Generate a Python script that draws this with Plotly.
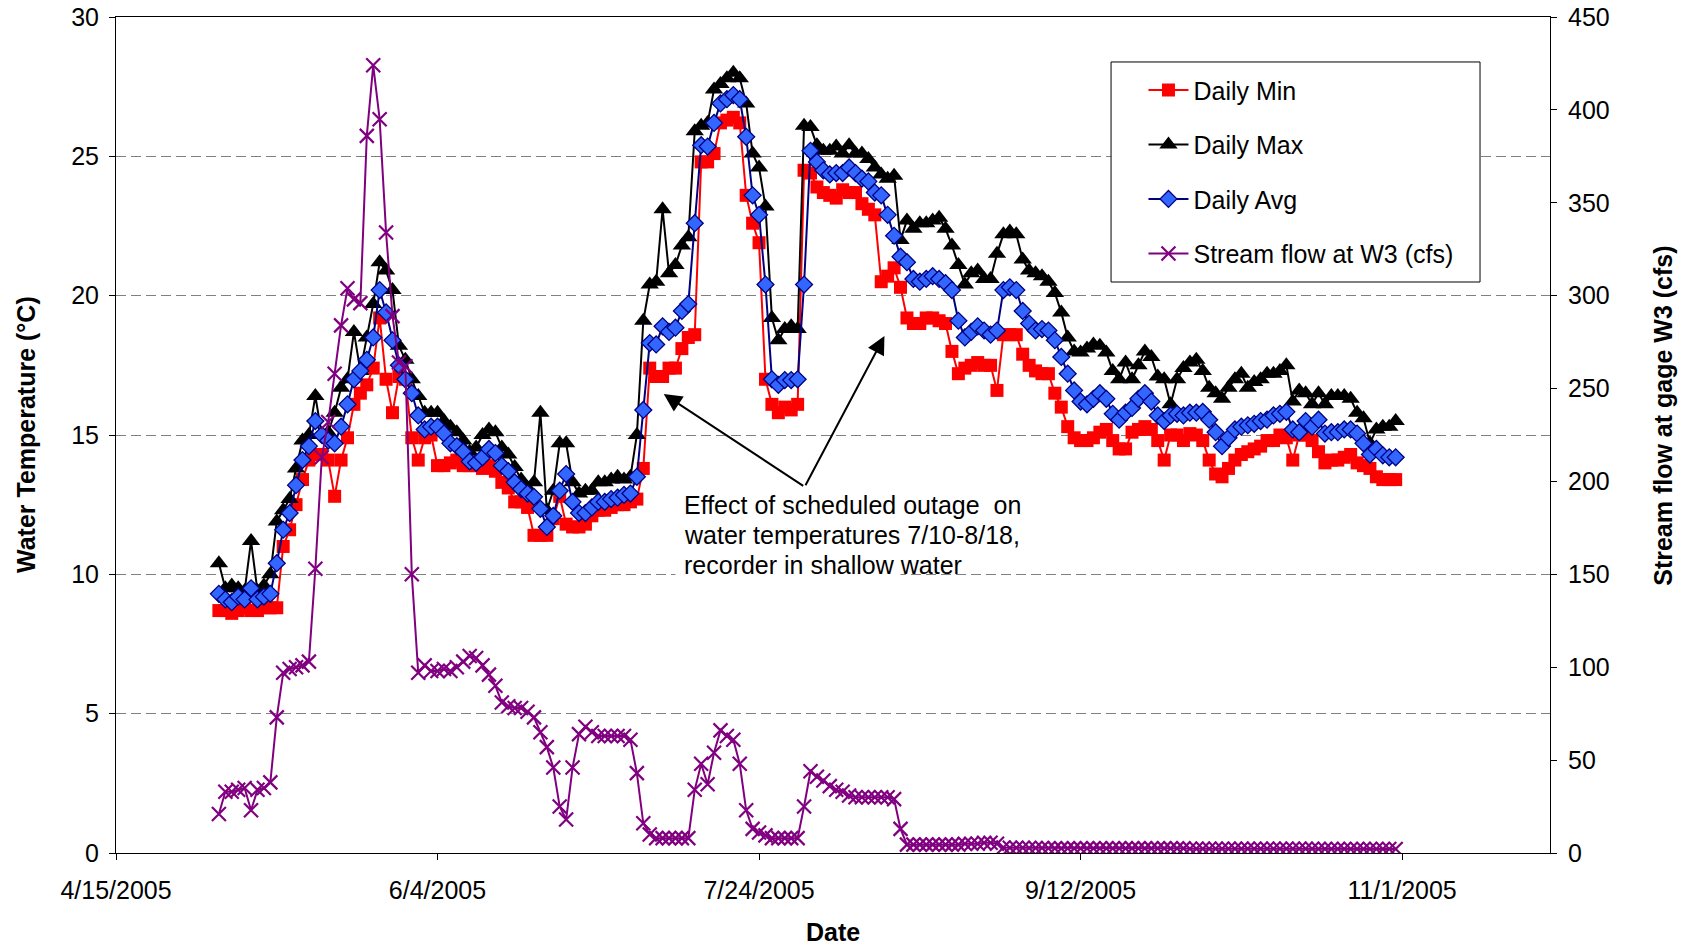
import pandas as pd
import plotly.graph_objects as go

start_date = "2005-05-01"

daily_min = [
    8.7, 8.7, 8.6, 8.7, 8.8, 8.7, 8.7, 8.8, 8.8, 8.8,
    11.0, 11.6, 12.5, 13.4, 14.1, 14.3, 14.3, 14.1, 12.8, 14.1,
    14.9, 16.1, 16.5, 16.8, 17.4, 19.2, 17.0, 15.8, 17.1, 17.0,
    14.9, 14.1, 14.9, 15.0, 13.9, 13.9, 14.0, 14.1, 13.9, 13.9,
    13.9, 13.8, 13.9, 13.7, 13.3, 13.1, 12.6, 12.6, 12.4, 11.4,
    11.4, 11.4, 12.0, 12.8, 11.8, 11.7, 11.7, 11.8, 12.1, 12.3,
    12.3, 12.4, 12.5, 12.5, 12.6, 12.7, 13.8, 17.4, 17.1, 17.1,
    17.4, 17.4, 18.1, 18.5, 18.6, 24.8, 24.8, 25.1, 26.2, 26.3,
    26.4, 26.2, 23.6, 22.6, 21.9, 17.0, 16.1, 15.8, 16.0, 15.9,
    16.1, 24.5, 24.4, 23.9, 23.7, 23.6, 23.5, 23.8, 23.7, 23.7,
    23.3, 23.1, 22.9, 20.5, 20.7, 21.0, 20.3, 19.2, 19.0, 19.0,
    19.2, 19.2, 19.1, 19.0, 18.0, 17.2, 17.4, 17.5, 17.6, 17.5,
    17.5, 16.6, 18.6, 18.6, 18.6, 17.9, 17.5, 17.3, 17.2, 17.2,
    16.5, 16.0, 15.3, 14.9, 14.8, 14.8, 14.9, 15.1, 15.2, 14.8,
    14.5, 14.5, 15.1, 15.2, 15.3, 15.2, 14.8, 14.1, 15.0, 15.0,
    14.8, 15.05, 15.0, 14.8, 14.1, 13.6, 13.5, 13.8, 14.1, 14.3,
    14.4, 14.5, 14.6, 14.8, 14.8, 15.0, 14.9, 14.1, 15.0, 15.0,
    14.8, 14.4, 14.0, 14.1, 14.1, 14.2, 14.3, 14.0, 13.9, 13.8,
    13.5, 13.4, 13.4, 13.4,
]

daily_max = [
    10.4, 9.5, 9.6, 9.5, 9.4, 11.2, 9.4, 9.6, 10.0, 11.9,
    12.3, 12.7, 13.8, 14.8, 15.0, 16.4, 15.0, 15.1, 15.8, 16.7,
    17.0, 18.7, 17.3, 18.5, 19.7, 21.2, 20.9, 20.2, 18.2, 17.7,
    17.0, 16.4, 15.8, 15.8, 15.8, 15.5, 15.3, 15.1, 14.8, 14.4,
    14.55, 15.0, 15.2, 15.1, 14.55, 14.3, 13.85, 13.4, 13.1, 13.3,
    15.8, 12.3, 13.0, 14.7, 14.7, 13.3, 12.9, 13.0, 13.0, 13.3,
    13.3, 13.4, 13.5, 13.4, 13.5, 15.0, 19.1, 20.4, 20.5, 23.1,
    20.8, 21.1, 21.8, 22.1, 25.9, 26.1, 26.2, 27.4, 27.6, 27.8,
    28.0, 27.8, 26.9, 25.1, 24.6, 23.2, 19.2, 18.4, 18.8, 18.9,
    18.8, 26.1, 26.05, 25.4, 25.2, 25.2, 25.35, 25.1, 25.4, 25.1,
    25.1, 24.9, 24.6, 24.35, 24.2, 24.3, 22.0, 22.7, 22.4, 22.6,
    22.6, 22.7, 22.8, 22.4, 21.8, 21.1, 20.4, 20.8, 20.9, 20.6,
    20.6, 21.5, 22.2, 22.3, 22.2, 21.3, 20.9, 20.8, 20.7, 20.5,
    20.1, 19.4, 18.5, 18.0, 17.96, 18.1, 18.25, 18.2, 17.96, 17.3,
    17.0, 17.6, 17.0, 17.5, 18.0, 17.8, 17.1, 17.0, 16.1, 17.0,
    17.4, 17.6, 17.7, 17.3, 16.7, 16.5, 16.3, 16.7, 17.0, 17.2,
    16.7, 16.9, 17.0, 17.2, 17.2, 17.3, 17.5, 16.2, 16.6, 16.5,
    16.1, 16.5, 16.1, 16.4, 16.4, 16.4, 16.3, 15.8, 15.6, 14.7,
    15.2, 15.3, 15.3, 15.5,
]

daily_avg = [
    9.3, 9.1, 9.0, 9.2, 9.1, 9.5, 9.1, 9.2, 9.3, 10.4,
    11.6, 12.2, 13.2, 14.1, 14.6, 15.5, 15.0, 14.8, 14.7, 15.3,
    16.1, 17.0, 17.3, 17.7, 18.5, 20.2, 19.4, 18.4, 17.5, 17.0,
    16.5, 15.7, 15.2, 15.3, 15.3, 15.05, 14.7, 14.6, 14.4, 14.05,
    14.0, 14.2, 14.5, 14.35, 13.9, 13.7, 13.3, 13.06, 12.9, 12.78,
    12.35, 11.7, 12.1, 13.0, 13.6, 12.6, 12.2, 12.2, 12.4, 12.6,
    12.6, 12.7, 12.75, 12.85, 12.9, 13.5, 15.9, 18.3, 18.25, 18.9,
    18.7, 18.85, 19.45, 19.7, 22.6, 25.4, 25.35, 26.2, 26.9, 27.05,
    27.2, 27.05, 25.7, 23.6, 22.9, 20.4, 17.0, 16.8, 16.97, 16.97,
    17.0, 20.4, 25.2, 24.8, 24.5, 24.35, 24.4, 24.4, 24.6, 24.4,
    24.2, 24.1, 23.7, 23.6, 22.9, 22.15, 21.4, 21.2, 20.6, 20.5,
    20.6, 20.7, 20.6, 20.45, 20.2, 19.1, 18.5, 18.7, 18.9, 18.75,
    18.6, 18.75, 20.2, 20.3, 20.2, 19.45, 19.0, 18.75, 18.8, 18.75,
    18.4, 17.8, 17.2, 16.6, 16.2, 16.1, 16.3, 16.5, 16.3, 15.76,
    15.55, 15.8, 15.97, 16.3, 16.5, 16.2, 15.7, 15.5, 15.7, 15.76,
    15.7, 15.8, 15.8, 15.83, 15.55, 15.1, 14.6, 14.9, 15.2, 15.3,
    15.35, 15.4, 15.5, 15.55, 15.7, 15.76, 15.83, 15.2, 15.1, 15.5,
    15.3, 15.55, 15.05, 15.1, 15.1, 15.2, 15.2, 15.05, 14.7, 14.3,
    14.5, 14.27, 14.2, 14.2,
]

stream_flow = [
    21, 33, 33, 34, 35, 23, 34, 35, 38, 73,
    97, 99, 100, 101, 103, 153, 213, 232, 258, 284,
    304, 298, 296, 386, 424, 395, 334, 289, 264, 262,
    150, 97, 101, 98, 98, 99, 98, 100, 103, 106,
    105, 101, 96, 90, 81, 79, 78, 78, 76, 73,
    65, 57, 46, 25, 18, 46, 64, 68, 65, 63,
    63, 63, 63, 63, 61, 43, 16, 10, 8, 8,
    8, 8, 8, 8, 34, 48, 37, 54, 66, 63,
    61, 48, 23, 13, 11, 9.5, 8, 8, 8, 8,
    8, 25, 44, 41, 39, 36, 34, 33, 31, 30,
    30, 30, 30, 30, 30, 29, 13, 4.5, 4.5, 4.5,
    4.5, 4.5, 4.5, 4.5, 4.5, 4.5, 5, 5, 5, 5.5,
    5.5, 5, 3, 2.8, 2.8, 2.8, 2.7, 2.7, 2.7, 2.6,
    2.5, 2.5, 2.5, 2.5, 2.5, 2.5, 2.5, 2.5, 2.5, 2.5,
    2.5, 2.5, 2.5, 2.5, 2.5, 2.5, 2.5, 2.5, 2.5, 2.5,
    2.5, 2.3, 2.3, 2.3, 2.3, 2.3, 2.3, 2.3, 2.3, 2.3,
    2.3, 2.3, 2.3, 2.3, 2.3, 2.3, 2.3, 2.3, 2.3, 2.3,
    2.3, 2.2, 2.2, 2.2, 2.2, 2.2, 2.2, 2.2, 2.2, 2.2,
    2.2, 2.2, 2.2, 2.2,
]

x_tick_dates = ["2005-04-15", "2005-06-04", "2005-07-24", "2005-09-12", "2005-11-01"]
x_tick_labels = ["4/15/2005", "6/4/2005", "7/24/2005", "9/12/2005", "11/1/2005"]
series_names = ["Daily Min", "Daily Max", "Daily Avg", "Stream flow at W3 (cfs)"]
note_lines = ["Effect of scheduled outage  on",
              "water temperatures 7/10-8/18,",
              "recorder in shallow water"]

dates = pd.date_range(start_date, periods=len(daily_min), freq="D")

FONT = "Arial, Liberation Sans, sans-serif"
FS = 25

fig = go.Figure()
fig.add_trace(go.Scatter(
    x=dates, y=daily_min, name=series_names[0], legendgroup="a",
    mode="lines+markers", line=dict(color="#FF0000", width=2),
    marker=dict(symbol="square", size=13, color="#FF0000")))
fig.add_trace(go.Scatter(
    x=dates, y=daily_max, name=series_names[1], legendgroup="b",
    mode="lines+markers", line=dict(color="#000000", width=2),
    marker=dict(symbol="triangle-up", size=16, color="#000000")))
fig.add_trace(go.Scatter(
    x=dates, y=daily_avg, name=series_names[2], legendgroup="c",
    mode="lines+markers", line=dict(color="#000080", width=2),
    marker=dict(symbol="diamond", size=13, color="#3366FF",
                line=dict(color="#000080", width=1.3))))
fig.add_trace(go.Scatter(
    x=dates, y=stream_flow, name=series_names[3], legendgroup="d", yaxis="y2",
    mode="lines+markers", line=dict(color="#800080", width=2),
    marker=dict(symbol="x-thin", size=14, color="#800080",
                line=dict(color="#800080", width=2.2))))

axis_common = dict(
    showline=True, linecolor="black", linewidth=1,
    ticks="outside", ticklen=6, tickcolor="black",
    tickfont=dict(family=FONT, size=FS, color="black"),
    zeroline=False, automargin=False,
)

fig.update_layout(
    width=1688, height=947,
    margin=dict(l=116, r=138, t=17, b=94, autoexpand=False),
    paper_bgcolor="white", plot_bgcolor="white",
    font=dict(family=FONT, size=FS, color="black"),
    showlegend=True,
    legend=dict(
        x=0.7165, y=0.940, xanchor="left", yanchor="top",
        bgcolor="rgba(0,0,0,0)", borderwidth=0,
        font=dict(family=FONT, size=FS, color="black"),
        tracegroupgap=19, itemwidth=40,
    ),
    xaxis=dict(
        type="date", range=["2005-04-15", "2005-11-24"],
        tickmode="array", tickvals=x_tick_dates, ticktext=x_tick_labels,
        showgrid=False, mirror=True, ticklabelstandoff=9, **axis_common,
    ),
    yaxis=dict(
        range=[0, 30], dtick=5, tick0=0,
        showgrid=True, gridcolor="#808080", gridwidth=1, griddash="10px,5px",
        mirror=True, ticklabelstandoff=5, **axis_common,
    ),
    yaxis2=dict(
        range=[0, 450], dtick=50, tick0=0, overlaying="y", side="right",
        showgrid=False, ticklabelstandoff=6, **axis_common,
    ),
)

# axis titles
fig.add_annotation(text="<b>Water Temperature (°C)</b>", xref="paper", yref="paper",
                   x=0, y=0.5, xshift=-90, textangle=-90, showarrow=False,
                   xanchor="center", yanchor="middle", font=dict(size=FS))
fig.add_annotation(text="<b>Stream flow at gage W3 (cfs)</b>", xref="paper", yref="paper",
                   x=1, y=0.523, xshift=113, textangle=-90, showarrow=False,
                   xanchor="center", yanchor="middle", font=dict(size=FS))
fig.add_annotation(text="<b>Date</b>", xref="paper", yref="paper",
                   x=0.5, y=0, yshift=-79, showarrow=False,
                   xanchor="center", yanchor="middle", font=dict(size=FS))

# legend box (covers gridlines like the reference)
fig.add_shape(type="rect", xref="paper", yref="paper",
              x0=0.6939, x1=0.9512, y0=0.683, y1=0.9462,
              line=dict(color="black", width=1), fillcolor="white", layer="above")

# white text box behind note (covers gridline at 10)
fig.add_shape(type="rect", xref="x", yref="y",
              x0="2005-07-11", x1="2005-08-15", y0=7.3, y1=13.6,
              line=dict(width=0), fillcolor="white", layer="above")

note_y = [12.48, 11.40, 10.32]
for line_text, yy in zip(note_lines, note_y):
    fig.add_annotation(text=line_text, x="2005-07-12 02:00", y=yy, xref="x", yref="y",
                       showarrow=False, xanchor="left", yanchor="middle",
                       font=dict(size=FS, color="black"))

# arrows
tail = ("2005-07-31 02:24", 13.14)
for tip in [("2005-07-09 04:20", 16.47), ("2005-08-12 12:00", 18.55)]:
    fig.add_annotation(text="", x=tip[0], y=tip[1], xref="x", yref="y",
                       ax=tail[0], ay=tail[1], axref="x", ayref="y",
                       showarrow=True, arrowhead=2, arrowsize=1.8, arrowwidth=2,
                       arrowcolor="black", standoff=0, startstandoff=0)

fig.write_html("out.html", config={"displayModeBar": False},
               post_script="document.body.style.margin='0';document.body.style.overflow='hidden';")
